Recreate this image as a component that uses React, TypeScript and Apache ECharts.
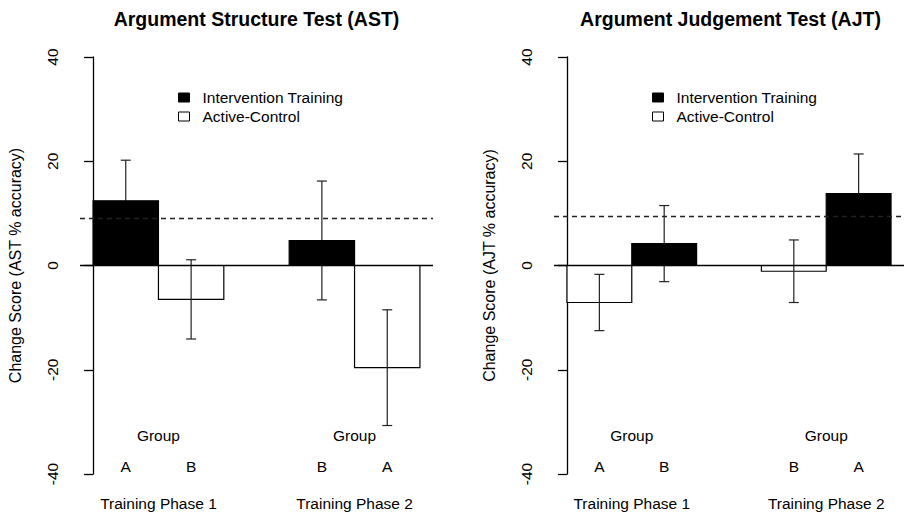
import React, { useEffect, useRef } from "react";
import * as echarts from "echarts";

// ---------- data ----------
const phases = ["Training Phase 1", "Training Phase 2"];
const groupLetters = ["A", "B", "B", "A"]; // per bar slot, both panels
const groupWord = "Group";
const seriesNames = ["Intervention Training", "Active-Control"];

const titles = ["Argument Structure Test (AST)", "Argument Judgement Test (AJT)"];
const yTitles = ["Change Score (AST % accuracy)", "Change Score (AJT % accuracy)"];

// AST panel (intervention bar first in each phase)
const astInterventionMean = [12.4, 4.8];
const astInterventionErr = [7.8, 11.4];
const astControlMean = [-6.5, -19.6];
const astControlErr = [7.6, 11.1];
const astReference = 9.1;

// AJT panel (control bar first in each phase)
const ajtInterventionMean = [4.2, 13.8];
const ajtInterventionErr = [7.3, 7.6];
const ajtControlMean = [-7.1, -1.1];
const ajtControlErr = [5.4, 6.0];
const ajtReference = 9.4;

const yTicks = { min: -40, max: 40, interval: 20 };

// ---------- layout ----------
const FONT = "'Liberation Sans', Arial, Helvetica, sans-serif";
const FS = 15.5;
const gridLefts = [80, 554];
const GRID_TOP = 57;
const GRID_W = 353;
const GRID_H = 417;
const X_MIN = -0.2;
const X_MAX = 5.2;
const phaseCenters = [1, 4];
const slotCenter = (phase: number, slot: number) => phase * 3 + slot + 0.5;

const GROUP_Y = -32.7;
const LETTER_Y = -38.5;

function barSeries(
  name: string,
  gridIndex: number,
  means: number[],
  errs: number[],
  slot: number,
  fill: string
) {
  const dark = fill === "#000";
  return {
    type: "custom",
    name,
    xAxisIndex: gridIndex,
    yAxisIndex: gridIndex,
    itemStyle: { color: fill, borderColor: "#000", borderWidth: 1 },
    z: 3,
    data: means.map((m, p) => [slotCenter(p, slot), m, errs[p]]),
    renderItem: (params: any, api: any) => {
      const x = api.value(0);
      const v = api.value(1);
      const e = api.value(2);
      const p0 = api.coord([x - 0.5, 0]);
      const p1 = api.coord([x + 0.5, v]);
      const top = api.coord([x, v + e]);
      const bot = api.coord([x, v - e]);
      const cap = 5;
      const lineStyle = { stroke: "#222", lineWidth: 1.2, fill: "none" };
      const rect = {
        type: "rect",
        shape: {
          x: p0[0],
          y: Math.min(p0[1], p1[1]),
          width: p1[0] - p0[0],
          height: Math.abs(p1[1] - p0[1]),
        },
        style: { fill, stroke: "#000", lineWidth: 1.2 },
      };
      const whisker = [
        {
          type: "line",
          shape: { x1: top[0], y1: top[1], x2: bot[0], y2: bot[1] },
          style: lineStyle,
        },
        {
          type: "line",
          shape: { x1: top[0] - cap, y1: top[1], x2: top[0] + cap, y2: top[1] },
          style: lineStyle,
        },
        {
          type: "line",
          shape: { x1: bot[0] - cap, y1: bot[1], x2: bot[0] + cap, y2: bot[1] },
          style: lineStyle,
        },
      ];
      return {
        type: "group",
        children: dark ? [...whisker, rect] : [rect, ...whisker],
      };
    },
  };
}

function labelSeries(gridIndex: number, reference: number) {
  const data: any[] = [];
  phaseCenters.forEach((c) => data.push({ value: [c, GROUP_Y], name: groupWord }));
  groupLetters.forEach((g, i) =>
    data.push({ value: [slotCenter(Math.floor(i / 2), i % 2), LETTER_Y], name: g })
  );
  return {
    type: "scatter",
    xAxisIndex: gridIndex,
    yAxisIndex: gridIndex,
    symbolSize: 0,
    itemStyle: { color: "#000", opacity: 1 },
    silent: true,
    clip: false,
    z: 5,
    label: {
      show: true,
      position: "inside",
      formatter: (p: any) => p.name,
      color: "#000",
      opacity: 1,
      fontSize: FS,
      fontFamily: FONT,
    },
    data,
    markLine: {
      silent: true,
      symbol: "none",
      label: { show: false },
      animation: false,
      data: [
        { yAxis: 0, lineStyle: { color: "#000", width: 1.3, type: "solid" } },
        { yAxis: reference, lineStyle: { color: "#222", width: 1.3, type: [5, 4] } },
      ],
    },
  };
}

const legendData = [
  {
    name: seriesNames[0],
    icon: "rect",
    itemStyle: { color: "#000", borderColor: "#000", borderWidth: 1 },
  },
  {
    name: seriesNames[1],
    icon: "rect",
    itemStyle: { color: "#fff", borderColor: "#000", borderWidth: 1 },
  },
];

export default function App() {
  const ref = useRef<HTMLDivElement>(null);
  useEffect(() => {
    if (!ref.current) return;
    const chart = echarts.init(ref.current, undefined, { renderer: "svg" });
    const option: any = {
      animation: false,
      backgroundColor: "#fff",
      grid: gridLefts.map((l) => ({
        left: l,
        top: GRID_TOP,
        width: GRID_W,
        height: GRID_H,
        containLabel: false,
      })),
      xAxis: gridLefts.map((_, i) => ({
        type: "value",
        gridIndex: i,
        min: X_MIN,
        max: X_MAX,
        axisLine: { show: false },
        axisTick: { show: false },
        splitLine: { show: false },
        axisLabel: {
          customValues: phaseCenters,
          formatter: (v: number) => phases[phaseCenters.indexOf(v)] ?? "",
          margin: 21,
          color: "#000",
          fontSize: FS,
          fontFamily: FONT,
        },
      })),
      yAxis: gridLefts.map((_, i) => ({
        type: "value",
        gridIndex: i,
        min: yTicks.min,
        max: yTicks.max,
        interval: yTicks.interval,
        name: yTitles[i],
        nameLocation: "middle",
        nameRotate: 90,
        nameGap: 57,
        nameTextStyle: { color: "#000", fontSize: 16, fontFamily: FONT },
        axisLine: { show: true, lineStyle: { color: "#000", width: 1.3 } },
        axisTick: { show: true, length: 9, lineStyle: { color: "#000", width: 1.3 } },
        splitLine: { show: false },
        axisLabel: {
          rotate: 90,
          margin: 20,
          color: "#000",
          fontSize: FS,
          fontFamily: FONT,
        },
      })),
      legend: gridLefts.map((l) => ({
        left: l + 98,
        top: 89,
        padding: 0,
        orient: "vertical",
        itemWidth: 11,
        itemHeight: 9,
        itemGap: 2,
        selectedMode: false,
        textStyle: {
          color: "#000",
          fontSize: FS,
          fontFamily: FONT,
          lineHeight: 17,
          padding: [0, 0, 0, 8],
        },
        data: legendData,
      })),
      graphic: titles.map((t, i) => ({
        type: "text",
        x: gridLefts[i] + GRID_W / 2,
        y: 19,
        style: {
          text: t,
          fill: "#000",
          font: `bold 19.5px ${FONT}`,
          align: "center",
          verticalAlign: "middle",
        },
      })),
      series: [
        barSeries(seriesNames[0], 0, astInterventionMean, astInterventionErr, 0, "#000"),
        barSeries(seriesNames[1], 0, astControlMean, astControlErr, 1, "#fff"),
        barSeries(seriesNames[0], 1, ajtInterventionMean, ajtInterventionErr, 1, "#000"),
        barSeries(seriesNames[1], 1, ajtControlMean, ajtControlErr, 0, "#fff"),
        labelSeries(0, astReference),
        labelSeries(1, ajtReference),
      ],
    };
    chart.setOption(option);
    return () => chart.dispose();
  }, []);
  return (
    <div
      ref={ref}
      style={{ position: "fixed", left: 0, top: 0, width: 904, height: 514 }}
    />
  );
}
